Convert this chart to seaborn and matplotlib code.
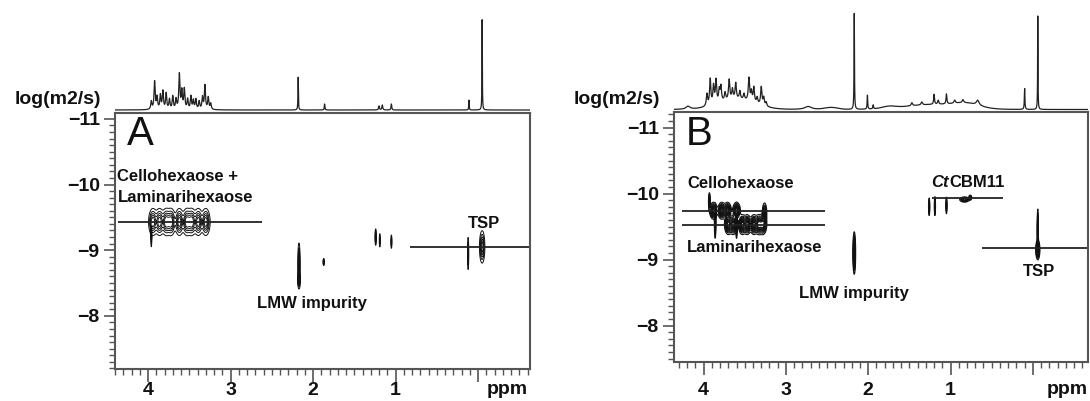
import numpy as np
import matplotlib
matplotlib.use("Agg")
import matplotlib.pyplot as plt
from matplotlib.ticker import MultipleLocator
import seaborn as sns

sns.set_theme(style="white")
plt.rcParams['font.family'] = ['Liberation Sans', 'DejaVu Sans']

# ---------------- 1D projections (peak lists) ----------
specA_ppm = [3.96, 3.92, 3.89, 3.85, 3.82, 3.78, 3.74, 3.70, 3.66, 3.62, 3.59, 3.56,
             3.52, 3.48, 3.45, 3.42, 3.38, 3.34, 3.31, 3.27, 3.24,
             2.18, 1.86, 1.20, 1.16, 1.05, 0.11, -0.05]
specA_height = [8, 28, 12, 14, 18, 16, 10, 13, 10, 35, 18, 20,
                10, 13, 9, 10, 8, 12, 24, 12, 6,
                33, 6, 4, 5, 6, 10, 91]
specA_width = [0.008] * 21 + [0.003, 0.004, 0.006, 0.006, 0.005, 0.003, 0.0025]

specB_ppm = [4.19, 3.96, 3.92, 3.88, 3.85, 3.81, 3.79, 3.74, 3.69, 3.65, 3.61, 3.56,
             3.51, 3.45, 3.42, 3.39, 3.35, 3.30, 3.27, 3.24, 2.73,
             2.17, 2.01, 1.94, 1.47, 1.35, 1.20, 1.15, 1.05, 0.95, 0.85, 0.67,
             0.10, -0.06]
specB_height = [3, 12, 26, 18, 23, 12, 15, 8, 20, 10, 16, 8,
                6, 23, 10, 15, 6, 18, 8, 4, 3,
                96, 14, 4, 3, 3, 10, 4, 10, 3, 3, 5,
                21, 96]
specB_width = [0.03] + [0.009] * 19 + [0.05,
               0.003, 0.004, 0.005, 0.01, 0.01, 0.006, 0.008, 0.006, 0.01, 0.01, 0.02,
               0.004, 0.0025]
humpB_ppm = [3.60, 1.20, 0.80, 2.45, 1.75]
humpB_height = [10, 5, 4, 2, 2]
humpB_width = [0.22, 0.35, 0.15, 0.08, 0.08]

# ---------------- 2D DOSY cross peaks (ppm, log D, widths, amplitude) --------
dosyA_ppm = [3.94, 3.86, 3.78, 3.72, 3.62, 3.53, 3.47, 3.39, 3.30, 3.96,
             2.17, 2.17, 1.87, 1.24, 1.19, 1.05, 0.12, -0.05]
dosyA_logd = [-9.43] * 9 + [-9.25,
              -8.78, -8.55, -8.82, -9.20, -9.15, -9.13, -8.95, -9.05]
dosyA_sx = [0.026] * 9 + [0.004, 0.007, 0.009, 0.005, 0.005, 0.004, 0.004, 0.004, 0.016]
dosyA_sy = [0.10] * 9 + [0.11, 0.16, 0.06, 0.03, 0.07, 0.06, 0.06, 0.13, 0.12]
dosyA_amp = [1.0] * 9 + [0.6, 1.0, 0.9, 0.6, 0.6, 0.5, 0.5, 0.7, 1.0]

dosyB_ppm = [3.88, 3.78, 3.71, 3.60, 3.70, 3.64, 3.53, 3.47, 3.39, 3.33, 3.28,
             3.93, 3.86, 3.60, 3.26, 2.17,
             1.26, 1.19, 1.05, 0.83, 0.76, -0.06, -0.06]
dosyB_logd = [-9.74] * 4 + [-9.53] * 7 + [-9.88, -9.55, -9.55, -9.70, -9.10,
              -9.80, -9.81, -9.82, -9.91, -9.94, -9.45, -9.15]
dosyB_sx = [0.022] * 11 + [0.006, 0.005, 0.005, 0.014, 0.008,
            0.004, 0.004, 0.004, 0.03, 0.01, 0.004, 0.012]
dosyB_sy = [0.06] * 4 + [0.07] * 7 + [0.07, 0.12, 0.12, 0.08, 0.15,
            0.07, 0.08, 0.07, 0.02, 0.02, 0.16, 0.07]
dosyB_amp = [1.0] * 11 + [0.6, 0.6, 0.6, 0.7, 1.0,
             0.6, 0.5, 0.5, 0.7, 0.5, 0.7, 1.0]

# guide lines: (log D, ppm start, ppm end)
linesA_y = [-9.43, -9.05]
linesA_x0 = [4.36, 0.83]
linesA_x1 = [2.62, -0.70]
linesB_y = [-9.74, -9.53, -9.93, -9.18]
linesB_x0 = [4.26, 4.26, 1.22, 0.62]
linesB_x1 = [2.52, 2.52, 0.36, -0.75]

xticks = [4, 3, 2, 1, 0]
xticklabels = ["4", "3", "2", "1", ""]
yticks = [-11, -10, -9, -8]

W, H = 1090, 401
fig = plt.figure(figsize=(W / 100, H / 100), dpi=100)


def fr(l, t, r, b):
    return [l / W, 1 - b / H, (r - l) / W, (b - t) / H]


def spectrum(x, ppm, hgt, wid, hp=(), hh=(), hw=()):
    y = np.zeros_like(x)
    for p, h, w in zip(ppm, hgt, wid):
        y += h / (1 + ((x - p) / w) ** 2)
    for p, h, w in zip(hp, hh, hw):
        y += h * np.exp(-0.5 * ((x - p) / w) ** 2)
    return y


def field(X, Y, px, py, sx, sy, amp):
    Z = np.zeros_like(X)
    for a, b, c, d, e in zip(px, py, sx, sy, amp):
        Z += e * np.exp(-0.5 * (((X - a) / c) ** 2 + ((Y - b) / d) ** 2))
    return Z


def style_main(ax, xlim, ylim, xpad):
    ax.set_xlim(*xlim)
    ax.set_ylim(*ylim)
    ax.set_xticks(xticks)
    ax.set_xticklabels(xticklabels)
    ax.set_yticks(yticks)
    ax.xaxis.set_minor_locator(MultipleLocator(0.1))
    ax.yaxis.set_minor_locator(MultipleLocator(0.1))
    ax.tick_params(which='major', direction='out', length=8, width=1.2, color='#555',
                   labelsize=14, pad=3, bottom=True, left=True, labelcolor='#111')
    ax.tick_params(axis='x', which='major', length=9, pad=xpad)
    ax.tick_params(which='minor', direction='out', length=4, width=1.0, color='#555',
                   bottom=True, left=True)
    for lab in ax.get_xticklabels() + ax.get_yticklabels():
        lab.set_fontweight('bold')
    for s in ax.spines.values():
        s.set_color('#555')
        s.set_linewidth(1.5)
    ax.grid(False)


gx = np.linspace(4.40, -0.70, 2600)
gy = np.linspace(-11.3, -7.1, 840)
X, Y = np.meshgrid(gx, gy)
tk = dict(fontsize=12, fontweight='bold', color='#111')

# ---------------- Panel A ----------------
xlimA = (4.40, -0.63)
axA = fig.add_axes(fr(115, 113, 530, 369))
style_main(axA, xlimA, (-7.19, -11.09), xpad=0.3)
ZA = field(X, Y, dosyA_ppm, dosyA_logd, dosyA_sx, dosyA_sy, dosyA_amp)
axA.contour(X, Y, ZA, levels=[0.12, 0.28, 0.45, 0.62, 0.8], colors='#111', linewidths=0.7)
axA.hlines(linesA_y, linesA_x0, linesA_x1, colors='#222', linewidth=1.3)
axA.text(4.26, -10.77, "A", fontsize=29, ha='left', va='center', color='#111')
axA.text(4.37, -10.12, "Cellohexaose +", ha='left', va='center', **tk)
axA.text(4.37, -9.81, "Laminarihexaose", ha='left', va='center', **tk)
axA.text(2.01, -8.19, "LMW impurity", ha='center', va='center', **tk)
axA.text(-0.07, -9.40, "TSP", ha='center', va='center', **tk)

spA = fig.add_axes(fr(115, 15, 530, 112))
xs = np.linspace(4.40, -0.63, 6000)
sns.lineplot(x=xs, y=spectrum(xs, specA_ppm, specA_height, specA_width), ax=spA,
             color='#222', linewidth=0.9, estimator=None, sort=False)
spA.set_xlim(*xlimA)
spA.set_ylim(-2, 95)
spA.axis('off')

# ---------------- Panel B ----------------
xlimB = (4.36, -0.67)
axB = fig.add_axes(fr(674, 112, 1088, 362))
style_main(axB, xlimB, (-7.45, -11.235), xpad=5.5)
ZB = field(X, Y, dosyB_ppm, dosyB_logd, dosyB_sx, dosyB_sy, dosyB_amp)
axB.contour(X, Y, ZB, levels=np.linspace(0.1, 0.9, 9), colors='#111', linewidths=0.8)
axB.hlines(linesB_y, linesB_x0, linesB_x1, colors='#222', linewidth=1.3)
axB.text(4.22, -10.90, "B", fontsize=29, ha='left', va='center', color='#111')
axB.text(4.20, -10.16, "Cellohexaose", ha='left', va='center', **tk)
axB.text(4.20, -9.18, "Laminarihexaose", ha='left', va='center', **tk)
axB.text(2.17, -8.49, "LMW impurity", ha='center', va='center', **tk)
axB.text(1.02, -10.17, "Ct", ha='right', va='center', fontstyle='italic', **tk)
axB.text(1.02, -10.17, "CBM11", ha='left', va='center', **tk)
axB.text(-0.07, -8.82, "TSP", ha='center', va='center', **tk)

spB = fig.add_axes(fr(674, 10, 1088, 112))
xs = np.linspace(4.36, -0.67, 6000)
sns.lineplot(x=xs, y=spectrum(xs, specB_ppm, specB_height, specB_width,
                              humpB_ppm, humpB_height, humpB_width), ax=spB,
             color='#222', linewidth=0.9, estimator=None, sort=False)
spB.set_xlim(*xlimB)
spB.set_ylim(-2.5, 99.5)
spB.axis('off')

# ---------------- figure texts ----------------
lk = dict(fontsize=14, fontweight='bold', color='#111', va='center')
fig.text(101 / W, 1 - 99 / H, "log(m2/s)", ha='right', **lk)
fig.text(660 / W, 1 - 99 / H, "log(m2/s)", ha='right', **lk)
fig.text(528 / W, 1 - 389 / H, "ppm", ha='right', **lk)
fig.text(1088 / W, 1 - 389 / H, "ppm", ha='right', **lk)

fig.savefig("out.png", dpi=100)
